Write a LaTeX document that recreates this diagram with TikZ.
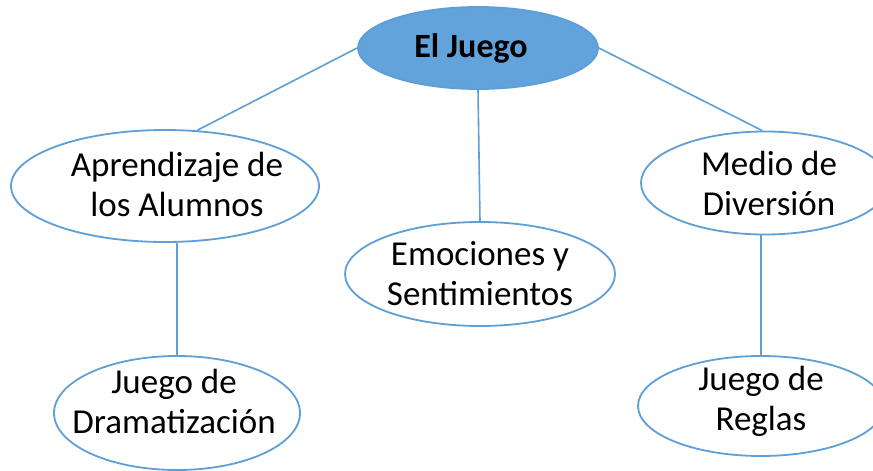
\documentclass[tikz,border=0pt]{standalone}
\usepackage{fontspec}
\setmainfont{Carlito}
\usetikzlibrary{shapes.geometric}
\definecolor{blu}{HTML}{62A3DB}
\definecolor{lin}{HTML}{5E9FD8}
\begin{document}
\begin{tikzpicture}[x=1pt,y=-1pt,
  bub/.style={ellipse,draw=lin,line width=1.8pt,fill=white,inner sep=0pt},
  txt/.style={align=center,inner sep=0pt,font=\fontsize{35}{40}\selectfont},
  conn/.style={draw=lin,line width=1.6pt}]
\clip (0,0) rectangle (873,471);
\fill[white] (0,0) rectangle (873,471);
% bubbles
\node[bub,fill=blu,minimum width=240pt,minimum height=82pt] (top) at (478,48) {};
\node[bub,minimum width=308pt,minimum height=112pt] (apr) at (165,186) {};
\node[bub,minimum width=270pt,minimum height=104pt] (emo) at (480,274) {};
\node[bub,minimum width=248pt,minimum height=103pt] (med) at (765,183) {};
\node[bub,minimum width=246pt,minimum height=114pt] (dra) at (177,413) {};
\node[bub,minimum width=246pt,minimum height=100pt] (reg) at (761,406) {};
% texts
\node[txt,font=\bfseries\fontsize{34}{40}\selectfont] (topt) at ([xshift=-7pt]top.center) {El Juego};
\node[txt] (aprt) at ([xshift=12pt,yshift=2pt]apr.center) {Aprendizaje de\\los Alumnos};
\node[txt] (emot) at (emo.center) {Emociones y\\Sentimientos};
\node[txt] (medt) at ([xshift=4pt]med.center) {Medio de\\Diversión};
\node[txt] (drat) at ([xshift=-3pt,yshift=12pt]dra.center) {Juego de\\Dramatización};
\node[txt] (regt) at ([yshift=5pt]reg.center) {Juego de\\Reglas};
% connectors
\draw[conn] (top.west) -- (apr.60);
\draw[conn] (top.east) -- (med.93);
\draw[conn] (top.south) -- (emo.north);
\draw[conn] (dra.north) -- (dra.north |- apr.south);
\draw[conn] (reg.north) -- (reg.north |- med.south);
\end{tikzpicture}
\end{document}
